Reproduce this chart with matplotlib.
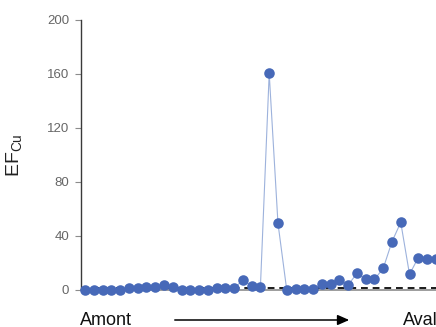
import matplotlib
matplotlib.use("Agg")
import matplotlib.pyplot as plt

# Data
ef_cu = [0, 0, 0, 0, 0, 1.2, 1.2, 2.5, 2.5, 3.7, 2, 0, 0, 0, 0, 1.2, 1.2, 1.2,
         7.4, 3, 2.5, 160.5, 49.4, 0, 0.5, 0.5, 0.5, 4.4, 4.4, 7.4, 3.7, 12.3,
         7.9, 7.9, 16, 35.8, 50.1, 11.6, 24, 23, 22.7]
threshold = 1.5
y_ticks = [0, 40, 80, 120, 160, 200]
left_label = "Amont"
right_label = "Aval"

plt.rcParams['font.family'] = ['Liberation Sans', 'DejaVu Sans']

fig = plt.figure(figsize=(4.36, 3.27), dpi=100)
ax = fig.add_axes([81/436, 37/327, 1 - 81/436, 270/327])

x = list(range(len(ef_cu)))
ax.axhline(threshold, color='#1a1a1a', lw=1.4, ls=(0, (3.5, 2.5)), zorder=1)
ax.plot(x, ef_cu, color='#9db2dc', lw=0.8, zorder=2, clip_on=False)
ax.plot(x, ef_cu, ls='none', marker='o', ms=7.6, color='#4769b8',
        markeredgewidth=0, zorder=3, clip_on=False)

ax.set_xlim(-0.46, 40.02)
ax.set_ylim(0, 200)
ax.set_yticks(y_ticks)
ax.set_xticks([])
for s in ['top', 'right']:
    ax.spines[s].set_visible(False)
ax.spines['left'].set_color('#3a3a3a')
ax.spines['left'].set_linewidth(1.0)
ax.spines['bottom'].set_color('#8c8c8c')
ax.spines['bottom'].set_linewidth(1.2)
ax.tick_params(axis='y', direction='out', length=4.3, width=0.8, color='#8c8c8c',
               pad=4.3, labelsize=9.5, labelcolor='#666666')

fig.text(15/436, 1 - 155/327, r'EF$_{\mathregular{Cu}}$', rotation=90, fontsize=14,
         ha='center', va='center', color='#222222')

fig.text(80/436, 1 - 325/327, left_label, fontsize=13, ha='left', va='baseline', color='#111111')
fig.text(403/436, 1 - 325/327, right_label, fontsize=13, ha='left', va='baseline', color='#111111')
fig.add_artist(matplotlib.patches.FancyArrowPatch(
    (172/436, 1 - 320/327), (352/436, 1 - 320/327), transform=fig.transFigure,
    arrowstyle='-|>,head_length=0.5,head_width=0.22', mutation_scale=14,
    color='black', lw=1.1))

fig.savefig('out.png', dpi=100)
